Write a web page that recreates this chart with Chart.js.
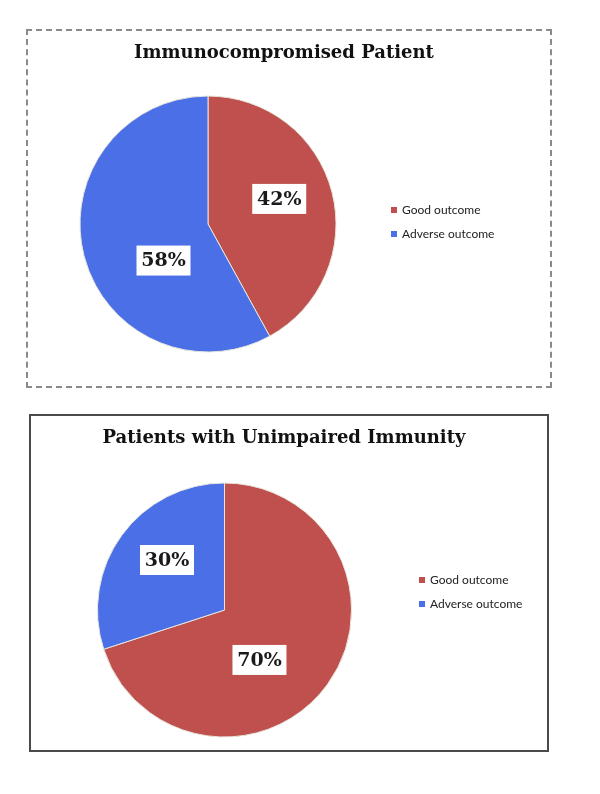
<!DOCTYPE html>
<html>
<head>
<meta charset="utf-8">
<script src="https://cdn.jsdelivr.net/npm/chart.js@4.4.0/dist/chart.umd.min.js"></script>
<style>
  body { margin: 0; background: #fff; width: 600px; height: 794px; position: relative; overflow: hidden; }
  .panel { position: absolute; box-sizing: border-box; background: #fff; }
  #panelTop { left: 26px; top: 29px; width: 526px; height: 359px; border: 2px dashed #8a8a8a; }
  #panelBottom { left: 29px; top: 414px; width: 520px; height: 338px; border: 2px solid #4a4a4a; }
  .panel canvas { position: absolute; left: 0; top: 0; }
  .title { position: absolute; z-index: 2; left: 0; width: 568px; text-align: center; font: bold 18px "DejaVu Serif", serif; color: #111; line-height: 24px; }
  .legend { position: absolute; z-index: 2; font: 12px Lato, "Open Sans", sans-serif; color: #222; }
  .legend div { height: 24px; line-height: 24px; position: relative; padding-left: 11px; white-space: nowrap; }
  .legend span { position: absolute; left: 0; top: 9px; width: 6px; height: 6px; }
</style>
</head>
<body>
<div class="panel" id="panelTop"><canvas id="chartTop" width="522" height="355"></canvas></div>
<div class="panel" id="panelBottom"><canvas id="chartBottom" width="516" height="334"></canvas></div>
<div class="title" style="top:40px">Immunocompromised Patient</div>
<div class="title" style="top:425px">Patients with Unimpaired Immunity</div>
<div class="legend" id="legendTop" style="left:391px; top:198px"></div>
<div class="legend" id="legendBottom" style="left:419px; top:568px"></div>
<script>
const categories = ['Good outcome', 'Adverse outcome'];
const immunocompromisedValues = [42, 58];
const unimpairedValues = [70, 30];
const sliceColors = ['#c0504d', '#4a6fe6'];

// draws the "42%" style boxes on the slices
const sliceLabels = {
  id: 'sliceLabels',
  afterDatasetsDraw(chart, args, opts) {
    const ctx = chart.ctx;
    const meta = chart.getDatasetMeta(0);
    const values = chart.data.datasets[0].data;
    ctx.save();
    ctx.font = 'bold 19px "DejaVu Serif", serif';
    ctx.textAlign = 'center';
    ctx.textBaseline = 'middle';
    meta.data.forEach((arc, i) => {
      const p = arc.getProps(['x', 'y', 'startAngle', 'endAngle', 'outerRadius'], true);
      const n = opts.nudge[i];
      const ang = (p.startAngle + p.endAngle) / 2 + n.a * Math.PI / 180;
      const cx = p.x + Math.cos(ang) * p.outerRadius * n.r;
      const cy = p.y + Math.sin(ang) * p.outerRadius * n.r;
      ctx.fillStyle = '#fff';
      ctx.fillRect(cx - 27, cy - 15, 54, 30);
      ctx.fillStyle = '#1a1a1a';
      ctx.fillText(values[i] + '%', cx, cy + 1);
    });
    ctx.restore();
  }
};

function makePie(canvasId, values, radius, padding, nudge) {
  return new Chart(document.getElementById(canvasId), {
    type: 'pie',
    data: {
      labels: categories,
      datasets: [{
        data: values,
        backgroundColor: sliceColors,
        borderColor: '#e6e6dc',
        borderWidth: 1
      }]
    },
    options: {
      responsive: false,
      devicePixelRatio: 1,
      animation: false,
      radius: radius,
      layout: { padding: padding },
      plugins: {
        legend: { display: false },
        tooltip: { enabled: false },
        sliceLabels: { nudge: nudge }
      }
    },
    plugins: [sliceLabels]
  });
}

function buildLegend(id) {
  const el = document.getElementById(id);
  el.innerHTML = categories.map((c, i) =>
    `<div><span style="background:${sliceColors[i]}"></span>${c}</div>`).join('');
}

makePie('chartTop', immunocompromisedValues, 128,
  { left: 0, right: 162, top: 31, bottom: 0 },
  [{ r: 0.59, a: -5 }, { r: 0.45, a: -25 }]);
makePie('chartBottom', unimpairedValues, 127,
  { left: 0, right: 129, top: 54, bottom: 0 },
  [{ r: 0.48, a: 19 }, { r: 0.6, a: 5 }]);
buildLegend('legendTop');
buildLegend('legendBottom');
</script>
</body>
</html>
